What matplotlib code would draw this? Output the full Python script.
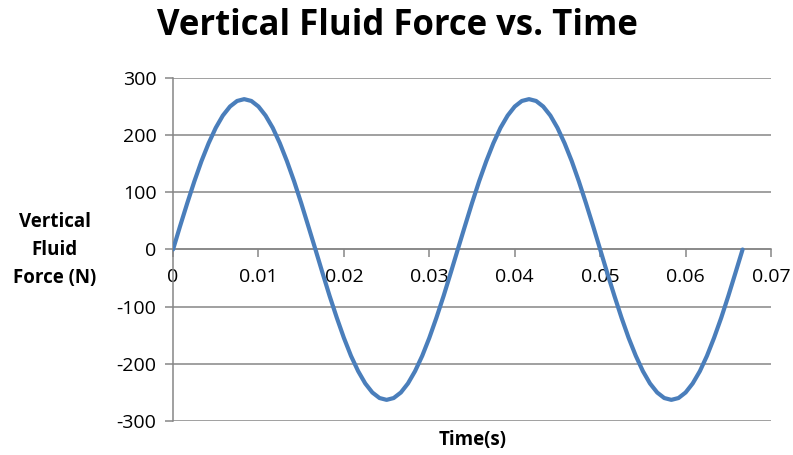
import matplotlib.pyplot as plt

plt.rcParams['font.family'] = ['Open Sans', 'DejaVu Sans']
plt.rcParams['axes.unicode_minus'] = False

time_s = [
    0.0, 0.00083, 0.00167, 0.0025, 0.00333, 0.00417, 0.005, 0.00583, 0.00667, 0.0075,
    0.00833, 0.00917, 0.01, 0.01083, 0.01167, 0.0125, 0.01333, 0.01417, 0.015, 0.01583,
    0.01667, 0.0175, 0.01833, 0.01917, 0.02, 0.02083, 0.02167, 0.0225, 0.02333, 0.02417,
    0.025, 0.02583, 0.02667, 0.0275, 0.02833, 0.02917, 0.03, 0.03083, 0.03167, 0.0325,
    0.03333, 0.03417, 0.035, 0.03583, 0.03667, 0.0375, 0.03833, 0.03917, 0.04, 0.04083,
    0.04167, 0.0425, 0.04333, 0.04417, 0.045, 0.04583, 0.04667, 0.0475, 0.04833, 0.04917,
    0.05, 0.05083, 0.05167, 0.0525, 0.05333, 0.05417, 0.055, 0.05583, 0.05667, 0.0575,
    0.05833, 0.05917, 0.06, 0.06083, 0.06167, 0.0625, 0.06333, 0.06417, 0.065, 0.06583,
    0.06667,
]
force_n = [
    0.0, 41.1, 81.3, 119.4, 154.6, 186.0, 212.8, 234.3, 250.1, 259.8,
    263.0, 259.8, 250.1, 234.3, 212.8, 186.0, 154.6, 119.4, 81.3, 41.1,
    0.0, -41.1, -81.3, -119.4, -154.6, -186.0, -212.8, -234.3, -250.1, -259.8,
    -263.0, -259.8, -250.1, -234.3, -212.8, -186.0, -154.6, -119.4, -81.3, -41.1,
    0.0, 41.1, 81.3, 119.4, 154.6, 186.0, 212.8, 234.3, 250.1, 259.8,
    263.0, 259.8, 250.1, 234.3, 212.8, 186.0, 154.6, 119.4, 81.3, 41.1,
    0.0, -41.1, -81.3, -119.4, -154.6, -186.0, -212.8, -234.3, -250.1, -259.8,
    -263.0, -259.8, -250.1, -234.3, -212.8, -186.0, -154.6, -119.4, -81.3, -41.1,
    0.0,
]
x_ticks = [0, 0.01, 0.02, 0.03, 0.04, 0.05, 0.06, 0.07]
x_labels = ['0', '0.01', '0.02', '0.03', '0.04', '0.05', '0.06', '0.07']
y_ticks = [-300, -200, -100, 0, 100, 200, 300]

grey = '#868686'

fig = plt.figure(figsize=(7.93, 4.55), dpi=100)
ax = fig.add_axes([0.2182, 0.0747, 0.7541, 0.7539])

ax.plot(time_s, force_n, color='#4A7EBB', linewidth=3.0, solid_capstyle='round', zorder=3)

ax.set_xlim(0, 0.07)
ax.set_ylim(-300, 300)
ax.set_xticks(x_ticks)
ax.set_xticklabels(x_labels)
ax.set_yticks(y_ticks)

ax.grid(axis='y', color=grey, linewidth=1.1)
ax.set_axisbelow(True)
for s in ['top', 'right']:
    ax.spines[s].set_visible(False)
ax.spines['bottom'].set_position(('data', 0))
ax.spines['bottom'].set_color(grey)
ax.spines['bottom'].set_linewidth(1.1)
ax.spines['left'].set_color(grey)
ax.spines['left'].set_linewidth(1.1)

ax.tick_params(axis='x', direction='out', length=6, width=1.1, color=grey,
               labelsize=14, pad=7)
ax.tick_params(axis='y', direction='out', length=6, width=1.1, color=grey,
               labelsize=14, pad=6)

fig.text(0.501, 0.943, 'Vertical Fluid Force vs. Time', ha='center', va='center',
         fontsize=25, fontweight='bold')
fig.text(0.069, 0.45, 'Vertical\nFluid\nForce (N)', ha='center', va='center',
         fontsize=13.5, fontweight='bold', linespacing=1.55)
fig.text(0.596, 0.033, 'Time(s)', ha='center', va='center',
         fontsize=13.5, fontweight='bold')

plt.savefig('out.png', dpi=100)
